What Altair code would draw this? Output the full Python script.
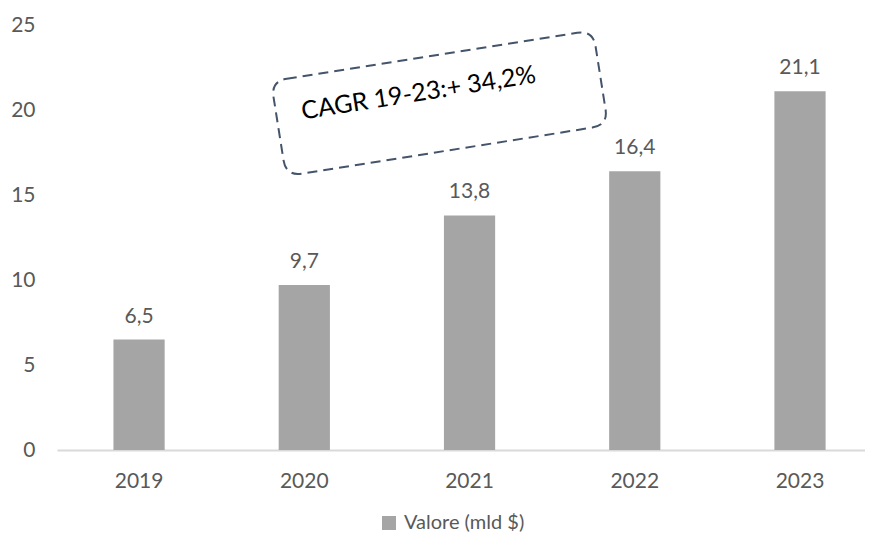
import altair as alt
import pandas as pd

anni = ["2019", "2020", "2021", "2022", "2023"]
valori = [6.5, 9.7, 13.8, 16.4, 21.1]
serie = "Valore (mld $)"
etichette = [f"{v:.1f}".replace(".", ",") for v in valori]

cagr_testo = "CAGR 19-23:+ 34,2%"
cagr_anno = "2021"
box_y = 20.4
testo_y = 21.0

df = pd.DataFrame({"anno": anni, "valore": valori, "etichetta": etichette, "serie": serie})
ann = pd.DataFrame({"anno": [cagr_anno], "box": [box_y], "ty": [testo_y], "testo": [cagr_testo]})

FONT = "Lato"
GREY_TXT = "#595959"

x_enc = alt.X("anno:N", sort=anni, title=None,
              scale=alt.Scale(paddingInner=0.69, paddingOuter=0.29, align=0.589),
              axis=alt.Axis(labelAngle=0, labelFont=FONT, labelFontSize=21, labelColor=GREY_TXT,
                            ticks=False, domainColor="#d9d9d9", domainWidth=2, labelPadding=20, grid=False))
y_scale = alt.Scale(domain=[0, 25], nice=False)

bars = alt.Chart(df).mark_bar(color="#a5a5a5").encode(
    x=x_enc,
    y=alt.Y("valore:Q", scale=y_scale, title=None,
            axis=alt.Axis(values=[0, 5, 10, 15, 20, 25], domain=False, ticks=False, grid=False,
                          labelFont=FONT, labelFontSize=21, labelColor=GREY_TXT, labelPadding=22)),
    color=alt.Color("serie:N", scale=alt.Scale(range=["#a5a5a5"]),
                    legend=alt.Legend(title=None, orient="none", legendX=322, legendY=488,
                                      symbolType="square", symbolSize=196, symbolStrokeWidth=0,
                                      labelFont=FONT, labelFontSize=20, labelColor=GREY_TXT,
                                      labelOffset=5, padding=0)),
)

labels = alt.Chart(df).mark_text(baseline="alphabetic", dy=-17, font=FONT, fontSize=21, color=GREY_TXT).encode(
    x=alt.X("anno:N", sort=anni),
    y=alt.Y("valore:Q", scale=y_scale),
    text="etichetta:N",
)

box_path = ("M -0.902 -0.2945 L 0.902 -0.2945 Q 1 -0.2945 1 -0.1965 L 1 0.1965 "
            "Q 1 0.2945 0.902 0.2945 L -0.902 0.2945 Q -1 0.2945 -1 0.1965 "
            "L -1 -0.1965 Q -1 -0.2945 -0.902 -0.2945 Z")

box = alt.Chart(ann).mark_point(shape=box_path, size=326 * 326, angle=351, filled=False,
                                stroke="#44546a", strokeWidth=2, strokeDash=[10, 6],
                                opacity=1, xOffset=-30).encode(
    x=alt.X("anno:N", sort=anni),
    y=alt.Y("box:Q", scale=y_scale),
)

testo = alt.Chart(ann).mark_text(angle=351, font=FONT, fontSize=25, color="#000000",
                                 align="center", baseline="middle", xOffset=-51).encode(
    x=alt.X("anno:N", sort=anni),
    y=alt.Y("ty:Q", scale=y_scale),
    text="testo:N",
)

chart = alt.layer(bars, labels, box, testo).properties(
    width=808, height=425,
    autosize=alt.AutoSizeParams(type="none"),
    padding={"left": 49, "top": 17, "right": 0, "bottom": 87},
).configure_view(stroke=None)

chart.save("out.html", embed_options={"renderer": "svg", "actions": False})
